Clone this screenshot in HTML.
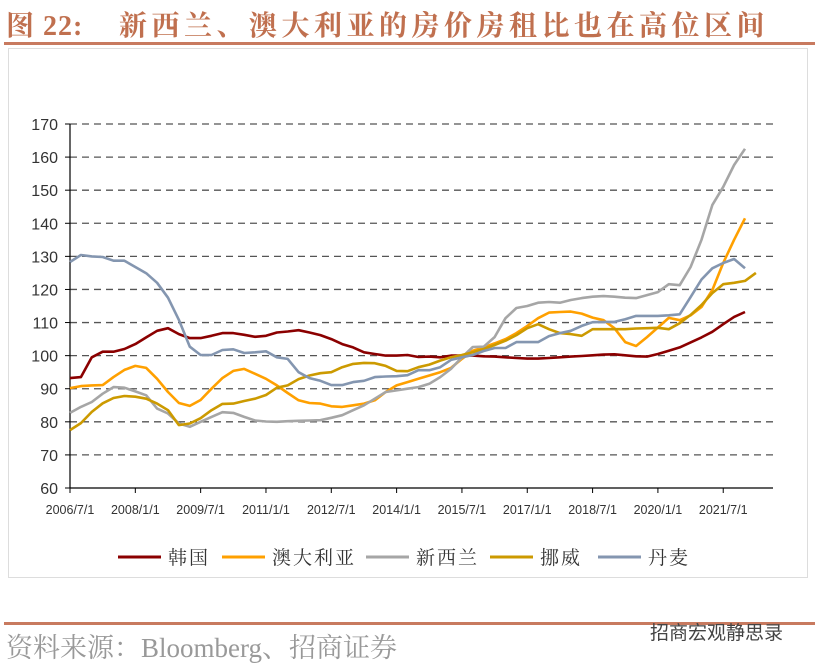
<!DOCTYPE html>
<html><head><meta charset="utf-8"><style>
body{margin:0;background:#fff;width:815px;height:665px;overflow:hidden;position:relative;font-family:"Liberation Serif","Noto Serif CJK SC",serif}
.tt{position:absolute;top:4px;font-size:28px;font-weight:bold;color:#c0704f;white-space:nowrap;font-family:"Liberation Serif","Noto Serif CJK SC",serif}
#t1{left:6px;letter-spacing:1px}
#t2{left:119px;letter-spacing:4.5px}
#src{position:absolute;left:6px;top:626px;font-size:27px;color:#999;white-space:nowrap}
#wm{position:absolute;left:650px;top:618px;font-size:19px;color:#444;font-family:"Liberation Sans","Noto Sans CJK SC",sans-serif;white-space:nowrap}
</style></head><body>
<div id="t1" class="tt">图 22:</div>
<div id="t2" class="tt">新西兰、澳大利亚的房价房租比也在高位区间</div>
<svg width="815" height="665" style="position:absolute;left:0;top:0" id="svg">
<rect x="4" y="42" width="811" height="3" fill="#c87a5f"/>
<rect x="8.5" y="48.5" width="799" height="529" fill="none" stroke="#ddd"/>
<rect x="4" y="622" width="811" height="3" fill="#c87a5f"/>
<g id="grid"></g><g id="axes"></g><g id="series"></g><g id="legend"></g>
</svg>
<div id="src">资料来源：Bloomberg、招商证券</div>
<div id="wm">招商宏观静思录</div>
<script>
const yTicks=[60,70,80,90,100,110,120,130,140,150,160,170];
const xLabels=["2006/7/1","2008/1/1","2009/7/1","2011/1/1","2012/7/1","2014/1/1","2015/7/1","2017/1/1","2018/7/1","2020/1/1","2021/7/1"];
const seriesNames=["韩国","澳大利亚","新西兰","挪威","丹麦"];
const korea=[93.2,93.5,99.5,101.2,101.2,102,103.5,105.5,107.5,108.3,106.5,105.3,105.3,106,106.8,106.8,106.3,105.7,106,107,107.3,107.7,107,106.2,105,103.5,102.5,101,100.5,100,100,100.2,99.6,99.7,99.5,100,100,100,99.8,99.7,99.5,99.3,99.1,99.1,99.3,99.5,99.7,99.9,100.1,100.3,100.4,100.1,99.8,99.7,100.5,101.5,102.5,104,105.5,107.2,109.5,111.7,113.2];
const australia=[90.2,90.8,91,91.1,93.5,95.7,96.9,96.3,93,89,85.7,84.8,86.6,90,93.2,95.4,96,94.5,93,91,88.7,86.5,85.7,85.5,84.7,84.5,85,85.5,86.5,89,91,92,93,94,95,96.3,99,101.5,102.5,103.7,105,106.8,109,111.3,113,113.2,113.3,112.7,111.5,110.7,108.3,104.1,102.9,105.6,108.5,111.4,110.7,112.2,114.7,119.8,128,135,141.5];
const newZealand=[82.7,84.5,86,88.5,90.5,90.3,89.2,88,84,82.5,79.5,78.5,80,81.5,82.9,82.7,81.5,80.4,80.1,80,80.2,80.3,80.4,80.5,81.2,82,83.5,85,87,89,89.5,90,90.5,91.5,93.5,96,99.5,102.6,102.7,105.6,111.3,114.4,115,116,116.2,116,116.8,117.4,117.8,118,117.8,117.5,117.4,118.3,119.2,121.6,121.3,126.8,135,145.5,151,157.6,162.5];
const norway=[77.5,79.6,83,85.6,87.2,87.8,87.6,87,85.5,83.5,79,79.5,81.1,83.5,85.4,85.5,86.3,87,88.1,90.3,91,92.9,94,94.7,95,96.5,97.5,97.8,97.7,96.9,95.4,95.3,96.5,97.3,98.5,99.5,100.2,101,102,103.2,104.5,106.2,108.3,109.5,108,106.8,106.5,106,108,108,108,108,108.2,108.3,108.4,108,109.8,112.3,115.3,118.9,121.6,122,122.6,125];
const denmark=[128.3,130.4,130,129.8,128.7,128.7,126.8,124.9,122,117.5,110.8,102.7,100.2,100.2,101.7,101.9,100.8,101,101.3,99.5,99,95,93.2,92.4,91.1,91.1,92,92.4,93.5,93.7,93.8,94.1,95.6,95.6,96.5,98.7,99.5,100.2,101.4,102.3,102.3,104.1,104.1,104.1,105.9,106.8,107.5,109,110.1,110.2,110.2,111,112,112,112,112.2,112.5,117.7,123,126.4,128,129.2,126.4];
const colors=["#8b0000","#ffa000","#a6a6a6","#cc9a00","#8496b0"];
const all=[korea,australia,newZealand,norway,denmark];
const NS="http://www.w3.org/2000/svg";
const X0=70,X1=773,Y0=488,Y1=124;
const qx=(675/62);
const xs=i=>X0+i*qx;
const ys=v=>Y0-(v-60)/(170-60)*(Y0-Y1);
function mk(t,a,p){const e=document.createElementNS(NS,t);for(const k in a)e.setAttribute(k,a[k]);p.appendChild(e);return e;}
const grid=document.getElementById('grid'),axes=document.getElementById('axes'),ser=document.getElementById('series'),leg=document.getElementById('legend');
yTicks.forEach(v=>{
 if(v>60){const l=mk('line',{x1:X0,x2:X1,y1:ys(v),y2:ys(v),stroke:'#555','stroke-width':1.3,'stroke-dasharray':'7,5'},grid);
 
 }
 const tk=mk('line',{x1:X0-5,x2:X0,y1:ys(v),y2:ys(v),stroke:'#000'},axes);
 
 
 const t=mk('text',{x:X0-12,y:ys(v)+6,'text-anchor':'end','font-size':16,fill:'#333','font-family':'Liberation Sans, sans-serif'},axes);
 t.textContent=v;
 
 
});
const ya=mk('line',{x1:X0,x2:X0,y1:Y1,y2:Y0,stroke:'#000','stroke-width':1.2},axes);


const xa=mk('line',{x1:X0,x2:X1,y1:Y0,y2:Y0,stroke:'#000','stroke-width':1.2},axes);


xLabels.forEach((s,k)=>{
 const x=xs(k*6);
 const tk=mk('line',{x1:x,x2:x,y1:Y0,y2:Y0+5,stroke:'#000'},axes);
 
 
 const t=mk('text',{x:x,y:Y0+26,'text-anchor':'middle','font-size':12.5,fill:'#333','font-family':'Liberation Sans, sans-serif'},axes);
 t.textContent=s;
 
 
});
all.forEach((arr,si)=>{
 const p=mk('polyline',{points:arr.map((v,i)=>xs(i).toFixed(1)+','+ys(v).toFixed(1)).join(' '),fill:'none',stroke:colors[si],'stroke-width':2.6,'stroke-linejoin':'round'},ser);
 
 
});
const lx=[118,222,366,490,598];
seriesNames.forEach((n,i)=>{
 const g=mk('g',{},leg);
 
 
 mk('line',{x1:lx[i],x2:lx[i]+43,y1:557,y2:557,stroke:colors[i],'stroke-width':3},g);
 const t=mk('text',{x:lx[i]+50,y:564,'font-size':19,fill:'#333','letter-spacing':'2','font-family':'Liberation Serif, Noto Serif CJK SC, serif'},g);
 t.textContent=n;
});
</script>
</body></html>
